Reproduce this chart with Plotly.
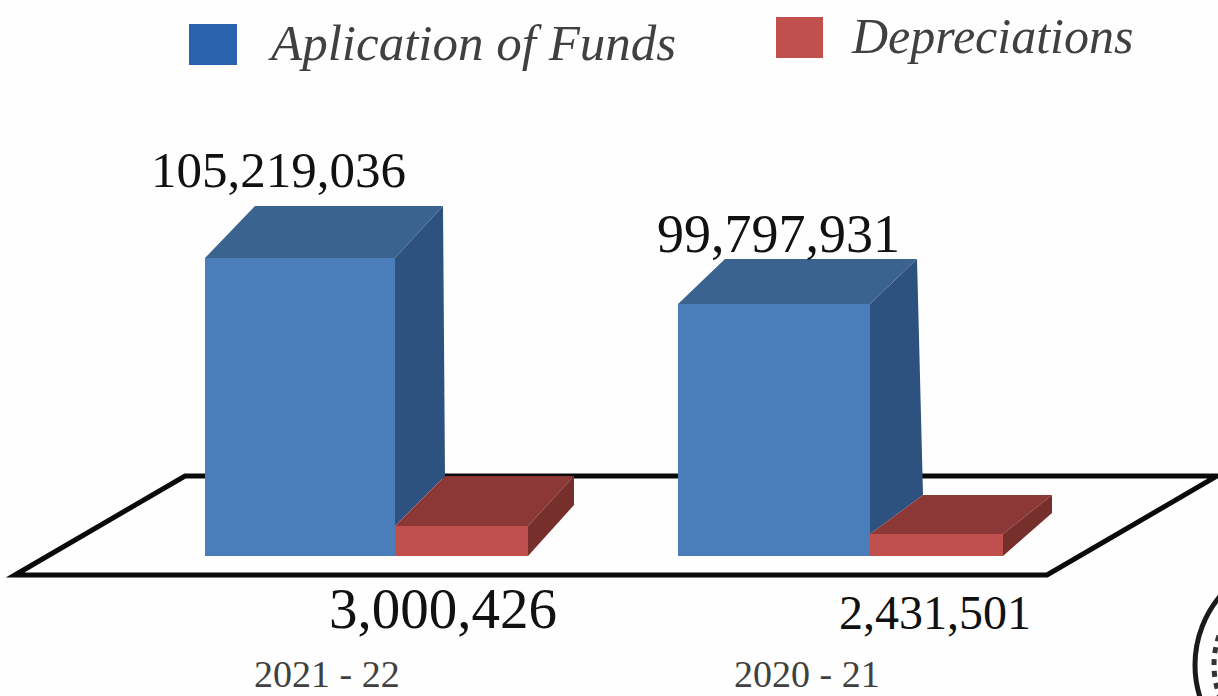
import plotly.graph_objects as go

# drawn heights (the 3D chart is not to scale with its labels)
years = ["2021 - 22", "2020 - 21"]
funds_height = [298, 252]
dep_height = [30, 22]
funds_labels = ["105,219,036", "99,797,931"]
dep_labels = ["3,000,426", "2,431,501"]
legend_names = ["Aplication of Funds", "Depreciations"]

# layout of the 3D look, in pixels: (dx back-left, dx back-right, dy)
funds_x = [300, 774]
funds_w = [190, 192]
funds_depth = [(50, 48, 52), (47, 47, 45)]
dep_x = [461.5, 936.5]
dep_w = [133, 133]
dep_depth = [(50, 46, 50), (53, 49, 39)]
dep_side_foot = [51, 43]

BLUE_FRONT, BLUE_TOP, BLUE_SIDE = "#4a7ebb", "#3a6390", "#2e527f"
RED_FRONT, RED_TOP, RED_SIDE = "#c0504d", "#8c3836", "#772f2c"
SERIF = "Liberation Serif"
BASE_PX = 556  # y pixel of the bar foot


def py(pixel_y):
    return BASE_PX - pixel_y


def poly(xs, ys, color):
    return go.Scatter(x=xs, y=ys, mode="lines", fill="toself", fillcolor=color,
                      line=dict(width=0), hoverinfo="skip", showlegend=False)


fig = go.Figure()
fig.add_trace(go.Bar(x=funds_x, y=funds_height, width=funds_w, marker=dict(color=BLUE_FRONT, line_width=0),
                     name=legend_names[0], showlegend=False))
fig.add_trace(go.Bar(x=dep_x, y=dep_height, width=dep_w, marker=dict(color=RED_FRONT, line_width=0),
                     name=legend_names[1], showlegend=False))

for i in range(2):
    h, hr = funds_height[i], dep_height[i]
    x0, x1 = funds_x[i] - funds_w[i] / 2, funds_x[i] + funds_w[i] / 2
    dl, dr, dy = funds_depth[i]
    rx0, rx1 = dep_x[i] - dep_w[i] / 2, dep_x[i] + dep_w[i] / 2
    rdl, rdr, rdy = dep_depth[i]
    # blue side then top, red top then side
    fig.add_trace(poly([x1, x1 + dr, x1 + rdl, x1, x1], [h, h + dy, hr + rdy, hr, h], BLUE_SIDE))
    fig.add_trace(poly([x0, x0 + dl, x1 + dr, x1, x0], [h, h + dy, h + dy, h, h], BLUE_TOP))
    fig.add_trace(poly([rx0, rx0 + rdl, rx1 + rdr, rx1, rx0], [hr, hr + rdy, hr + rdy, hr, hr], RED_TOP))
    fig.add_trace(poly([rx1, rx1 + rdr, rx1 + rdr, rx1, rx1], [hr, hr + rdy, dep_side_foot[i], 0, hr], RED_SIDE))

# value labels
label_spots = [
    (funds_labels[0], 278, 170, 51),
    (funds_labels[1], 778, 234, 54),
    (dep_labels[0], 443, 608, 57),
    (dep_labels[1], 935, 612, 48),
]
for text, x, y, size in label_spots:
    fig.add_annotation(x=x, y=py(y), text=text, showarrow=False,
                       font=dict(family=SERIF, size=size, color="#111111"))

for text, x in zip(years, [327, 807]):
    fig.add_annotation(x=x, y=py(674), text=text, showarrow=False,
                       font=dict(family=SERIF, size=38, color="#404040"))

# legend
fig.add_annotation(x=472, y=py(43), text=legend_names[0], showarrow=False,
                   font=dict(family=SERIF, size=51, color="#404040", style="italic"))
fig.add_annotation(x=992, y=py(36), text=legend_names[1], showarrow=False,
                   font=dict(family=SERIF, size=50, color="#404040", style="italic"))
fig.add_shape(type="rect", x0=189, x1=237, y0=py(65), y1=py(24), fillcolor="#2a62ae", line_width=0)
fig.add_shape(type="rect", x0=776, x1=823, y0=py(58), y1=py(17), fillcolor="#c0504d", line_width=0)

# floor the bars stand on
floor = f"M 15 {py(575)} L 185 {py(476)} L 1217 {py(476)} L 1047 {py(575)} Z"
fig.add_shape(type="path", path=floor, line=dict(color="#0a0a0a", width=5), layer="below")

# edge of the round seal and its lettering, cut off by the page
fig.add_shape(type="circle", x0=1195, x1=1409, y0=py(772), y1=py(558),
              line=dict(color="#1a1a1a", width=5))
fig.add_shape(type="circle", x0=1214, x1=1390, y0=py(753), y1=py(577),
              line=dict(color="#333333", width=5, dash="6px,6px"))

fig.update_xaxes(range=[0, 1218], visible=False, fixedrange=True)
fig.update_yaxes(range=[py(696), py(0)], visible=False, fixedrange=True)
fig.update_layout(width=1218, height=696, margin=dict(l=0, r=0, t=0, b=0),
                  paper_bgcolor="#fefefe", plot_bgcolor="rgba(0,0,0,0)",
                  showlegend=False, barmode="overlay")

fig.write_html("out.html", config=dict(displayModeBar=False),
               post_script="document.body.style.margin='0';")
